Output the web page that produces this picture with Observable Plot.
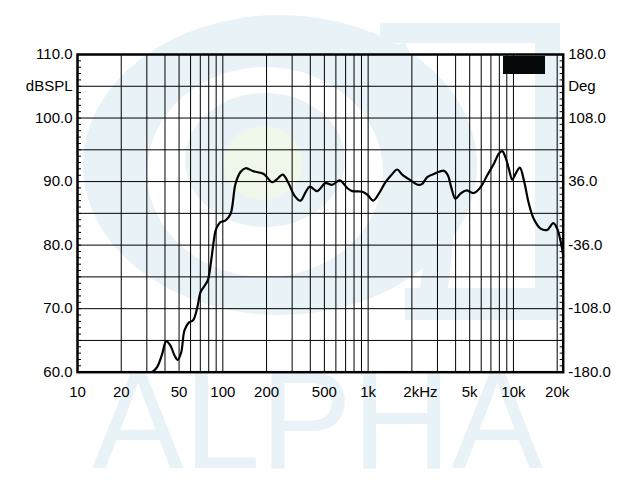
<!DOCTYPE html>
<html><head><meta charset="utf-8">
<script src="https://cdn.jsdelivr.net/npm/d3@7"></script>
<script src="https://cdn.jsdelivr.net/npm/@observablehq/plot@0.6"></script>
<style>
body{margin:0;background:#fff}
#wrap{position:relative;width:640px;height:480px;overflow:hidden;background:#fff}
#wm,#chart{position:absolute;left:0;top:0}
#legend{position:absolute;left:503px;top:56px;width:42px;height:18px;background:#050909}
</style>
</head><body>
<div id="wrap">
<svg id="wm" width="640" height="480">
  <g fill="#e8f2f7">
    <path fill-rule="evenodd" d="M83,165 a197,150 0 1,0 394,0 a197,150 0 1,0 -394,0 Z M147,172 a118,105 0 1,0 236,0 a118,105 0 1,0 -236,0 Z"/>
    <ellipse cx="265" cy="160" rx="80" ry="67"/>
    <rect x="380" y="23" width="180" height="20"/>
    <rect x="535" y="23" width="25" height="297"/>
    <rect x="405" y="288" width="155" height="32"/>
    <path d="M372,50 Q440,160 420,288 L448,288 Q468,160 405,43 Z"/>
    <text x="92" y="468" font-family="Liberation Sans, Arial, sans-serif" font-size="140" textLength="451" lengthAdjust="spacingAndGlyphs">ALPHA</text>
  </g>
  <ellipse cx="263" cy="163" rx="40" ry="37" fill="#eff6ea"/>
</svg>
<div id="chart"></div>
<div id="legend"></div>
</div>
<script>
const freq = [33, 35.3, 38.3, 40.8, 43.6, 46.6, 49, 51.7, 54.5, 58.3, 62.5, 66.6, 70.3, 74.9, 78.9, 83.2, 86.7, 89.2, 91.5, 96.3, 104.4, 113, 122.3, 132.4, 143.3, 163.5, 191.4, 218.6, 236.6, 258.6, 284.6, 311, 342.5, 370.7, 397, 446, 509, 566, 638, 717, 777, 911, 986, 1084, 1185, 1318, 1466, 1586, 1717, 1959, 2199, 2357, 2551, 2910, 3320, 3538, 3733, 3994, 4322, 4729, 5336, 5937, 6602, 7330, 7930, 8370, 8820, 9300, 9810, 10330, 11070, 11800, 12770, 13810, 15370, 17100, 18800, 20000, 21300, 22000];
const spl = [60.1, 60.8, 62.9, 64.9, 64.2, 62.6, 61.95, 63.1, 66.6, 67.8, 68.2, 70.1, 72.6, 73.6, 74.5, 77.6, 80.7, 82.3, 82.9, 83.6, 83.9, 84.9, 89.65, 91.5, 92.1, 91.6, 91.2, 89.9, 90.4, 91.1, 89.65, 87.8, 87.0, 88.3, 89.2, 88.5, 89.75, 89.5, 90.2, 89.0, 88.5, 88.4, 87.95, 87.0, 88.1, 89.9, 91.2, 91.9, 91.1, 90.2, 89.5, 89.65, 90.7, 91.3, 91.7, 91.0, 89.1, 87.3, 88.1, 88.6, 88.2, 89.1, 91.0, 92.8, 94.4, 94.8, 93.8, 92.0, 90.3, 91.2, 92.2, 90.2, 86.5, 84.1, 82.6, 82.4, 83.45, 82.6, 80.2, 78.3];

const xTicks = [10, 20, 50, 100, 200, 500, 1000, 2000, 5000, 10000, 20000];
const xLabels = ["10", "20", "50", "100", "200", "500", "1k", "2kHz", "5k", "10k", "20k"];
const xUnitAt = 2000;
const xGrid = [20, 30, 40, 50, 60, 70, 80, 90, 100, 200, 300, 400, 500, 600, 700, 800, 900, 1000, 2000, 3000, 4000, 5000, 6000, 7000, 8000, 9000, 10000, 20000];
const yTicks = [110, 100, 90, 80, 70, 60];
const splLabels = ["110.0", "100.0", "90.0", "80.0", "70.0", "60.0"];
const degLabels = ["180.0", "108.0", "36.0", "-36.0", "-108.0", "-180.0"];
const yGrid = [65, 70, 75, 80, 85, 90, 95, 100, 105];
const unitLevel = 105;
const splUnit = "dBSPL";
const degUnit = "Deg";
const minorTicks = d3.range(60, 111, 1);

const data = freq.map((f, i) => ({f, db: spl[i]}));
const xLabelData = xTicks.map((t, i) => ({t, label: xLabels[i]}));
const font = "Liberation Sans, Arial, Helvetica, sans-serif";
const labelFor = (labels, unit) => (v) => v === unitLevel ? unit : labels[yTicks.indexOf(v)];

const plot = Plot.plot({
  width: 640,
  height: 480,
  marginLeft: 77,
  marginRight: 77.3,
  marginTop: 54,
  marginBottom: 108.3,
  style: {background: "transparent", fontFamily: font, color: "#000"},
  x: {type: "log", domain: [10, 22000], label: null, axis: null},
  y: {domain: [60, 110], label: null},
  marks: [
    Plot.gridX(xGrid, {stroke: "#000", strokeOpacity: 1, strokeWidth: 1}),
    Plot.gridY(yGrid, {stroke: "#000", strokeOpacity: 1, strokeWidth: 1}),
    Plot.line(data, {x: "f", y: "db", stroke: "#000", strokeWidth: 2.2, curve: "catmull-rom"}),
    Plot.axisY(minorTicks, {anchor: "left", tickSize: -4, fill: "none", stroke: "#000", label: null}),
    Plot.axisY(minorTicks, {anchor: "right", tickSize: -4, fill: "none", stroke: "#000", label: null}),
    Plot.axisY([...yTicks, unitLevel], {anchor: "left", tickSize: 0, tickPadding: 5, fontSize: 15, tickFormat: labelFor(splLabels, splUnit), label: null}),
    Plot.axisY([...yTicks, unitLevel], {anchor: "right", tickSize: 0, tickPadding: 5, fontSize: 15, tickFormat: labelFor(degLabels, degUnit), label: null}),
    Plot.text(xLabelData.filter(d => d.t !== xUnitAt), {x: "t", text: "label", frameAnchor: "bottom", lineAnchor: "top", dy: 14, fontSize: 15, fill: "#000"}),
    Plot.text(xLabelData.filter(d => d.t === xUnitAt), {x: "t", text: "label", frameAnchor: "bottom", lineAnchor: "top", textAnchor: "start", dy: 14, dx: -8.5, fontSize: 15, fill: "#000"}),
    Plot.frame({stroke: "#000", strokeWidth: 2.5})
  ]
});
document.getElementById("chart").appendChild(plot);
</script>
</body></html>
